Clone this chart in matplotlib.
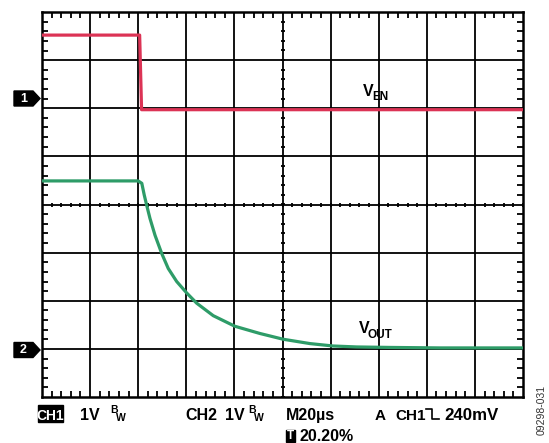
import numpy as np
import matplotlib.pyplot as plt
from matplotlib.patches import Polygon, Rectangle
from matplotlib.ticker import MultipleLocator

W, H = 549, 443

# scope settings
time_per_div = 20.0      # us/div
ch1_offset = 2.21        # divisions, CH1 ground marker
ch2_offset = -3.0        # divisions, CH2 ground marker

# CH1: V_EN (volts)
en_t = [0.0, 40.6, 41.4, 200.0]
en_v = [1.31, 1.31, -0.24, -0.24]

# CH2: V_OUT (volts)
out_t = [0.0, 40.0, 41.5, 42.5, 43.5, 44.9, 47.0, 49.8, 52.5, 56.0,
         60.2, 64.3, 71.2, 80.2, 90.6, 100.3, 111.4, 121.0, 130.8,
         144.7, 165.5, 200.0]
out_v = [3.49, 3.49, 3.44, 3.20, 2.99, 2.71, 2.36, 1.98, 1.67, 1.40,
         1.16, 0.95, 0.69, 0.47, 0.32, 0.20, 0.11, 0.06, 0.04,
         0.03, 0.02, 0.02]

plt.rcParams['font.family'] = ['Liberation Sans', 'DejaVu Sans']
plt.rcParams['font.weight'] = 'bold'

fig = plt.figure(figsize=(W / 100, H / 100), dpi=100)
ax = fig.add_axes([42 / W, 1 - 397 / H, 481 / W, 385 / H])


def px(x, y):
    """figure pixel (from top-left) -> figure fraction"""
    return x / W, 1 - y / H


ax.set_xlim(0, 10 * time_per_div)
ax.set_ylim(-4, 4)

# graticule
for gx in np.arange(1, 10) * time_per_div:
    ax.axvline(gx, color='black', lw=1.3, zorder=1)
for gy in range(-3, 4):
    ax.axhline(gy, color='black', lw=1.3, zorder=1)

# cross ticks on the centre lines
cx = np.arange(0, 10.01, 0.2) * time_per_div
ax.plot(cx, np.zeros_like(cx), ls='none', marker='|', ms=3.5, mew=1.3,
        color='black', zorder=1)
cy = np.arange(-4, 4.01, 0.2)
ax.plot(np.full_like(cy, 5 * time_per_div), cy, ls='none', marker='_',
        ms=3.5, mew=1.3, color='black', zorder=1)

# border ticks
ax.xaxis.set_major_locator(MultipleLocator(time_per_div))
ax.xaxis.set_minor_locator(MultipleLocator(time_per_div / 5))
ax.yaxis.set_major_locator(MultipleLocator(1))
ax.yaxis.set_minor_locator(MultipleLocator(0.2))
ax.tick_params(which='both', direction='in', top=True, right=True,
               labelbottom=False, labelleft=False, width=1.3)
ax.tick_params(which='major', length=0)
ax.tick_params(which='minor', length=4)
for s in ax.spines.values():
    s.set_linewidth(1.8)

# traces
ax.plot(en_t, np.array(en_v) + ch1_offset, color='#DC3355', lw=2.3,
        solid_joinstyle='round', zorder=3)
ax.plot(out_t, np.array(out_v) + ch2_offset, color='#2E9C68', lw=2.3,
        solid_joinstyle='round', zorder=3)

# trace labels
fig.text(*px(363, 96), 'V', fontsize=11.5, ha='left', va='baseline')
fig.text(*px(372, 100), 'EN', fontsize=8.5, ha='left', va='baseline')
fig.text(*px(359, 333), 'V', fontsize=11.5, ha='left', va='baseline')
fig.text(*px(368, 337.5), 'OUT', fontsize=8.5, ha='left', va='baseline')


# channel ground markers
def marker(ymid, label):
    pts = [px(14, ymid - 7.5), px(33, ymid - 7.5), px(40, ymid),
           px(33, ymid + 7.5), px(14, ymid + 7.5)]
    fig.patches.append(Polygon(pts, closed=True, color='black',
                               transform=fig.transFigure))
    fig.text(*px(23.5, ymid), label, color='white', fontsize=9,
             ha='center', va='center')


marker(98.5, '1')
marker(350, '2')

# status line
fs = 11.5
fig.patches.append(Rectangle(px(38, 422), 25 / W, 17 / H, color='black',
                             transform=fig.transFigure))
fig.text(*px(50.5, 420), 'CH1', color='white', fontsize=10, ha='center',
         va='baseline')
fig.text(*px(80, 420), '1V', fontsize=fs, va='baseline')
fig.text(*px(110, 413), 'B', fontsize=7.5, va='baseline')
fig.text(*px(116, 421), 'W', fontsize=7.5, va='baseline')
fig.text(*px(185, 420), 'CH2', fontsize=fs, va='baseline')
fig.text(*px(225, 420), '1V', fontsize=fs, va='baseline')
fig.text(*px(248, 413), 'B', fontsize=7.5, va='baseline')
fig.text(*px(254, 421), 'W', fontsize=7.5, va='baseline')
fig.text(*px(286, 420), 'M20µs', fontsize=fs, va='baseline')
fig.text(*px(375, 420), 'A', fontsize=11, va='baseline')
fig.text(*px(395, 420), 'CH1', fontsize=11, va='baseline')
edge_x = [426, 432, 432, 439]
edge_y = [409, 409, 419, 419]
fig.add_artist(plt.Line2D([e / W for e in edge_x],
                          [1 - e / H for e in edge_y],
                          color='black', lw=1.2, transform=fig.transFigure))
fig.text(*px(444, 420), '240mV', fontsize=12.2, va='baseline')
fig.patches.append(Rectangle(px(286, 442), 9 / W, 12 / H, color='black',
                             transform=fig.transFigure))
fig.text(*px(290.5, 436), 'T', color='white', fontsize=8.5, ha='center',
         va='center')
fig.text(*px(299, 441), '20.20%', fontsize=fs, va='baseline')

fig.text(*px(542, 410), '09298-031', fontsize=7.5, fontweight='normal',
         color='#333333', rotation=90, ha='center', va='center')

fig.savefig('out.png', dpi=100)
